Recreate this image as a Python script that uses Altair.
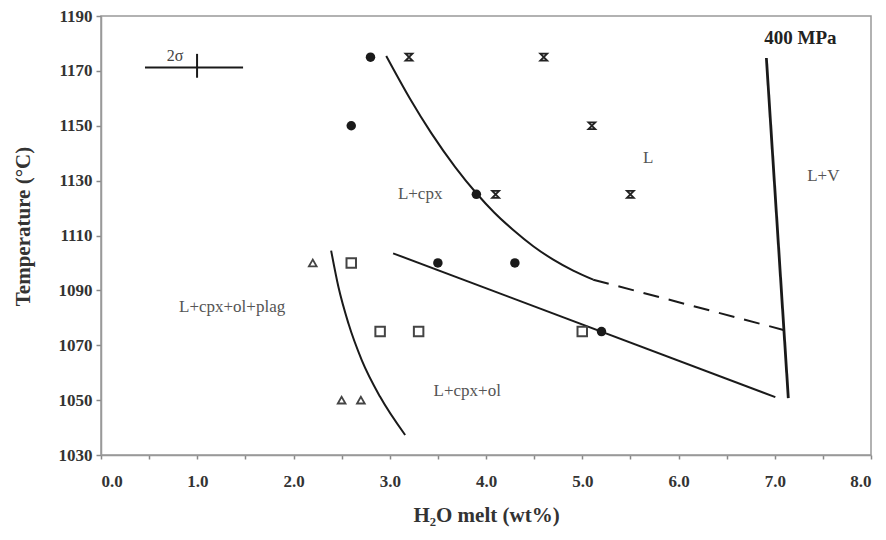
import altair as alt
import pandas as pd

# ---- data ----
circ_x = [2.8, 2.6, 3.9, 3.5, 4.3, 5.2]
circ_y = [1175, 1150, 1125, 1100, 1100, 1075]
hour_x = [3.2, 4.6, 5.1, 4.1, 5.5]
hour_y = [1175, 1175, 1150, 1125, 1125]
sq_x = [2.6, 2.9, 3.3, 5.0]
sq_y = [1100, 1075, 1075, 1075]
tri_x = [2.2, 2.5, 2.7]
tri_y = [1100, 1050, 1050]

cpx_x = [2.963, 3.212, 3.430, 3.680, 3.898, 4.085, 4.283, 4.491, 4.699, 4.906, 5.114]
cpx_y = [1175.45, 1159.75, 1147.4, 1134.95, 1125.5, 1118.4, 1112.0, 1106.1, 1101.2, 1097.2, 1093.9]
dash_x = [5.114, 7.10]
dash_y = [1093.9, 1075.5]
ol_x = [3.035, 7.006]
ol_y = [1103.5, 1051.1]
plag_x = [2.391, 2.467, 2.571, 2.710, 2.900, 3.160]
plag_y = [1104.5, 1091.2, 1077.9, 1064.5, 1051.2, 1037.3]
sat_x = [6.913, 7.141]
sat_y = [1174.7, 1050.7]

lab_text = ["L+cpx", "L", "L+V", "L+cpx+ol+plag", "L+cpx+ol"]
lab_x = [3.316, 5.686, 7.505, 1.362, 3.805]
lab_y = [1125.3, 1138.4, 1131.8, 1083.8, 1053.3]

err_h_x = [0.457]; err_h_x2 = [1.476]; err_h_y = [1171.2]
err_v_x = [0.998]; err_v_y = [1167.5]; err_v_y2 = [1176.2]

x_ticks = [i * 0.5 for i in range(17)]
y_ticks = list(range(1030, 1191, 20))

SERIF = "Liberation Serif"

xs = alt.Scale(domain=[0, 8], nice=False, zero=False)
ys = alt.Scale(domain=[1030, 1190], nice=False, zero=False)

AX = dict(grid=False, domainColor="#999", domainWidth=1.5, tickColor="#888", tickWidth=1.5,
          labelFont=SERIF, labelFontSize=17, labelFontWeight="bold", labelColor="#333",
          titleFont=SERIF, titleFontSize=21, titleFontWeight="bold", titleColor="#333")

X = alt.X("x:Q", scale=xs, axis=alt.Axis(
    values=x_ticks, title="H₂O melt (wt%)",
    labelExpr="datum.value % 1 == 0 ? format(datum.value, '.1f') : ''",
    labelPadding=14, tickSize=4, titleY=60, titleBaseline="middle", **AX))
Y = alt.Y("y:Q", scale=ys, axis=alt.Axis(
    values=y_ticks, title="Temperature (°C)", format="d",
    labelPadding=4, tickSize=5, titleX=-78, titleY=210,
    titleBaseline="middle", titleAngle=270, titleAlign="center", **AX))


def df(xv, yv, **extra):
    d = pd.DataFrame({"x": xv, "y": yv, "i": list(range(len(xv)))})
    for k, v in extra.items():
        d[k] = v
    return d


def line(xv, yv, width=2.0, dash=None, interp="linear"):
    kw = dict(color="#1a1a1a", strokeWidth=width, interpolate=interp)
    if dash:
        kw["strokeDash"] = dash
    return alt.Chart(df(xv, yv)).mark_line(**kw).encode(x=X, y=Y, order="i:Q")


layers = [
    line(cpx_x, cpx_y, interp="monotone"),
    line(dash_x, dash_y, dash=[16, 10]),
    line(ol_x, ol_y),
    line(plag_x, plag_y, interp="monotone"),
    line(sat_x, sat_y, width=2.8),
    alt.Chart(df(err_h_x, err_h_y, x2=err_h_x2)).mark_rule(color="#1a1a1a", strokeWidth=2).encode(
        x=X, x2="x2:Q", y=Y),
    alt.Chart(df(err_v_x, err_v_y, y2=err_v_y2)).mark_rule(color="#1a1a1a", strokeWidth=2).encode(
        x=X, y=Y, y2="y2:Q"),
    alt.Chart(df(circ_x, circ_y)).mark_point(shape="circle", filled=True, size=90,
                                             color="#1a1a1a", opacity=1).encode(x=X, y=Y),
    alt.Chart(df(hour_x, hour_y)).mark_point(
        shape="M-1,-1L1,-1L-1,1L1,1Z", filled=False, size=48, color="#222",
        strokeWidth=1.8, fill="#888", fillOpacity=0.3, opacity=1).encode(x=X, y=Y),
    alt.Chart(df(sq_x, sq_y)).mark_point(shape="square", filled=False, size=90,
                                         color="#444", strokeWidth=2, opacity=1).encode(x=X, y=Y),
    alt.Chart(df(tri_x, tri_y)).mark_point(shape="triangle-up", filled=False, size=60,
                                           color="#444", strokeWidth=1.8, opacity=1).encode(x=X, y=Y),
    alt.Chart(df(lab_x, lab_y, t=lab_text)).mark_text(
        font=SERIF, fontSize=17, color="#555", align="center", baseline="middle").encode(
        x=X, y=Y, text="t:N"),
    alt.Chart(df([0.77], [1175.5], t=["2σ"])).mark_text(
        font=SERIF, fontSize=16, color="#444", align="center", baseline="middle").encode(
        x=X, y=Y, text="t:N"),
    alt.Chart(df([7.266], [1182], t=["400 MPa"])).mark_text(
        font=SERIF, fontSize=19, fontWeight="bold", color="#222", align="center",
        baseline="middle").encode(x=X, y=Y, text="t:N"),
]

chart = alt.layer(*layers).properties(
    width=770, height=439,
    background="white",
    autosize=alt.AutoSizeParams(type="none"),
    padding={"left": 93, "top": 8, "right": 7, "bottom": 73},
).configure_view(
    stroke="#999", strokeWidth=1.5
)

chart.save("out.html", embed_options={"renderer": "svg", "actions": False})
